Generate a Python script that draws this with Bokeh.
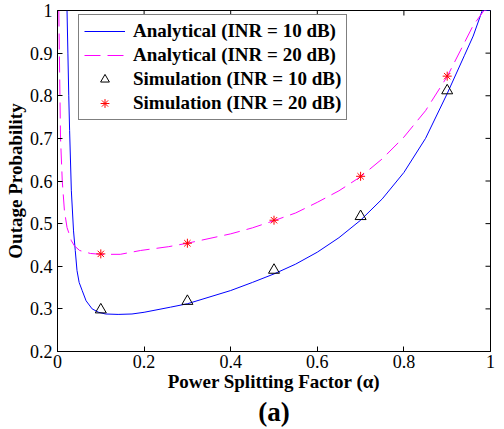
import math
from bokeh.plotting import figure
from bokeh.models import Range1d, FixedTicker, Legend, LegendItem, Title
from bokeh.embed import file_html
from bokeh.resources import INLINE

# ---- data ----
alpha_10 = [0.022, 0.024, 0.026, 0.028, 0.032, 0.037, 0.041, 0.045, 0.050, 0.057,
            0.066, 0.080, 0.095, 0.111, 0.140, 0.172, 0.200, 0.261, 0.300, 0.400,
            0.450, 0.500, 0.550, 0.600, 0.650, 0.700, 0.750, 0.800, 0.850, 0.900,
            0.940, 0.960, 0.981, 1.000]
pout_10 = [1.000, 0.900, 0.800, 0.718, 0.577, 0.483, 0.437, 0.390, 0.362, 0.343,
           0.319, 0.300, 0.292, 0.288, 0.287, 0.288, 0.292, 0.304, 0.312, 0.343,
           0.362, 0.382, 0.405, 0.433, 0.467, 0.508, 0.558, 0.620, 0.700, 0.805,
           0.895, 0.940, 1.000, 1.000]

alpha_20 = [0.003, 0.005, 0.007, 0.011, 0.016, 0.022, 0.032, 0.039, 0.051, 0.076,
            0.100, 0.145, 0.192, 0.257, 0.300, 0.400, 0.450, 0.500, 0.550, 0.600,
            0.650, 0.700, 0.750, 0.800, 0.850, 0.900, 0.930, 0.960, 0.985, 1.000]
pout_20 = [1.000, 0.850, 0.700, 0.600, 0.530, 0.491, 0.460, 0.448, 0.437, 0.430,
           0.428, 0.428, 0.437, 0.446, 0.454, 0.476, 0.490, 0.507, 0.525, 0.550,
           0.577, 0.610, 0.652, 0.703, 0.765, 0.845, 0.905, 0.965, 1.000, 1.000]

sim_alpha = [0.1, 0.3, 0.5, 0.7, 0.9]
sim_10 = [0.298, 0.318, 0.391, 0.517, 0.812]
sim_20 = [0.429, 0.454, 0.508, 0.611, 0.846]

x_ticks = [0, 0.2, 0.4, 0.6, 0.8, 1]
x_tick_labels = ["0", "0.2", "0.4", "0.6", "0.8", "1"]
y_ticks = [0.2, 0.3, 0.4, 0.5, 0.6, 0.7, 0.8, 0.9, 1.0]
y_tick_labels = ["0.2", "0.3", "0.4", "0.5", "0.6", "0.7", "0.8", "0.9", "1"]

series_labels = ["Analytical (INR = 10 dB)", "Analytical (INR = 20 dB)",
                 "Simulation (INR = 10 dB)", "Simulation (INR = 20 dB)"]
y_label = "Outage Probability"
x_label = "Power Splitting Factor (\u03b1)"
caption = "(a)"

X_MIN, X_MAX = 0, 1
Y_MIN, Y_MAX = 0.2, 1
FONT = "Liberation Serif"

p = figure(width=504, height=429, output_backend="svg", toolbar_location=None,
           x_range=Range1d(X_MIN, X_MAX), y_range=Range1d(Y_MIN, Y_MAX),
           min_border_left=57, min_border_right=14, min_border_top=10,
           min_border_bottom=78, x_axis_label=x_label, y_axis_label=y_label)
p.grid.visible = False
p.outline_line_color = "black"
p.outline_line_width = 1
p.background_fill_color = "white"
p.border_fill_color = "white"

def style_axis(ax, ticks, labels):
    ax.ticker = FixedTicker(ticks=ticks)
    ax.major_label_overrides = dict(zip(ticks, labels))
    ax.axis_line_color = "black"
    ax.major_tick_line_color = "black"
    ax.major_tick_in = 5
    ax.major_tick_out = 0
    ax.minor_tick_line_color = None
    ax.major_label_text_font = FONT
    ax.major_label_text_color = "black"
    ax.major_label_text_font_size = "18px"
    ax.axis_label_text_font = FONT
    ax.axis_label_text_font_style = "bold"
    ax.axis_label_text_font_size = "19px"
    ax.axis_label_text_color = "black"

style_axis(p.xaxis[0], x_ticks, x_tick_labels)
style_axis(p.yaxis[0], y_ticks, y_tick_labels)
p.xaxis[0].major_label_standoff = 3
p.xaxis[0].axis_label_standoff = 0
p.yaxis[0].major_label_standoff = 5
p.yaxis[0].axis_label_standoff = 1

p.add_layout(Title(text=caption, align="center", text_font=FONT,
                   text_font_style="bold", text_font_size="27px",
                   text_color="black", standoff=0, offset=0), "below")

# inward ticks on the top and right edges of the box (half of each dash is clipped)
p.scatter(x_ticks, [Y_MAX] * len(x_ticks), marker="dash", size=10, angle=math.pi / 2,
          line_color="black", line_width=1)
p.scatter([X_MAX] * len(y_ticks), y_ticks, marker="dash", size=10,
          line_color="black", line_width=1)

r1 = p.line(alpha_10, pout_10, line_color="#0000FF", line_width=1)
r2 = p.line(alpha_20, pout_20, line_color="#FF00FF", line_width=1, line_dash="16 7")
r3 = p.scatter(sim_alpha, sim_10, marker="triangle", size=11, line_color="black",
               fill_color=None, line_width=1)
r4 = p.scatter(sim_alpha, sim_20, marker="asterisk", size=9, line_color="#FF0000",
               line_width=1)

legend = Legend(items=[LegendItem(label=series_labels[0], renderers=[r1]),
                       LegendItem(label=series_labels[1], renderers=[r2]),
                       LegendItem(label=series_labels[2], renderers=[r3]),
                       LegendItem(label=series_labels[3], renderers=[r4])],
                location=(21, 231), margin=0, padding=5, spacing=2,
                glyph_width=41, glyph_height=22, label_height=22, label_standoff=8,
                label_text_font=FONT, label_text_font_style="bold",
                label_text_font_size="19px", label_text_color="black",
                border_line_color="black", border_line_width=1,
                background_fill_color="white", background_fill_alpha=1)
p.add_layout(legend)

open("out.html", "w").write(file_html(p, INLINE))
